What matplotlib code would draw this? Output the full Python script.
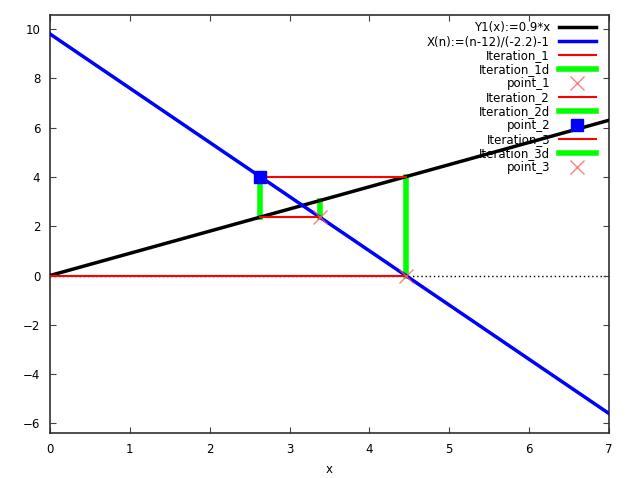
import matplotlib
matplotlib.use("Agg")
import matplotlib.pyplot as plt

# data
x_line = [0, 7]
y1_vals = [0.0, 6.3]          # Y1(x) = 0.9*x
xn_vals = [9.8, -5.6]         # X(n) line
it1_x = [0.0, 4.4545]; it1_y = [0.0, 0.0]
it1d_x = [4.4545, 4.4545]; it1d_y = [0.0, 4.009]
p1 = (4.4545, 0.0)
it2_x = [4.4545, 2.632]; it2_y = [4.009, 4.009]
it2d_x = [2.632, 2.632]; it2d_y = [4.009, 2.369]
p2 = (2.632, 4.009)
it3_x = [2.632, 3.378]; it3_y = [2.369, 2.369]
it3d_x = [3.378, 3.378]; it3d_y = [2.369, 3.040]
p3 = (3.378, 2.369)
xticks = [0, 1, 2, 3, 4, 5, 6, 7]
yticks = [-6, -4, -2, 0, 2, 4, 6, 8, 10]

plt.rcParams['font.family'] = ['DejaVu Sans']
fig = plt.figure(figsize=(6.4, 4.78), dpi=100)
ax = fig.add_axes([50/640, 45/478, 559/640, 418/478])

ax.axhline(0, color='black', lw=1, ls=(0, (1, 2)), zorder=1)
ax.plot(x_line, y1_vals, color='black', lw=2.5, label='Y1(x):=0.9*x', zorder=3)
ax.plot(x_line, xn_vals, color='#0000ff', lw=2.5, label='X(n):=(n-12)/(-2.2)-1', zorder=3)
ax.plot(it1_x, it1_y, color='#ff0000', lw=1.5, label='Iteration_1', zorder=4)
ax.plot(it1d_x, it1d_y, color='#00ff00', lw=4, label='Iteration_1d', zorder=2)
ax.plot([p1[0]], [p1[1]], ls='none', marker='x', ms=10, mew=1, color='#ff6060', alpha=0.8, label='point_1', zorder=5)
ax.plot(it2_x, it2_y, color='#ff0000', lw=1.5, label='Iteration_2', zorder=4)
ax.plot(it2d_x, it2d_y, color='#00ff00', lw=4, label='Iteration_2d', zorder=2)
ax.plot([p2[0]], [p2[1]], ls='none', marker='s', ms=9, color='#0000ff', label='point_2', zorder=5)
ax.plot(it3_x, it3_y, color='#ff0000', lw=1.5, label='Iteration_3', zorder=4)
ax.plot(it3d_x, it3d_y, color='#00ff00', lw=4, label='Iteration_3d', zorder=2)
ax.plot([p3[0]], [p3[1]], ls='none', marker='x', ms=10, mew=1, color='#ff6060', alpha=0.8, label='point_3', zorder=5)

ax.set_xlim(0, 7)
ax.set_ylim(-6.39, 10.57)
ax.set_xticks(xticks)
ax.set_yticks(yticks)
ax.tick_params(direction='in', top=True, right=True, labelsize=8.5, length=4, width=0.8, colors='#404040', labelcolor='black', pad=7)
for s in ax.spines.values():
    s.set_linewidth(1.2)
    s.set_color('#303030')
ax.set_xlabel('x', fontsize=8.5, labelpad=5)

leg = ax.legend(loc='upper right', bbox_to_anchor=(1 - 7/559, 1), frameon=False, fontsize=8.5,
                markerfirst=False, handlelength=3.1, labelspacing=0.08, borderaxespad=0.35,
                borderpad=0.2, handletextpad=0.75)
fig.savefig('out.png', dpi=100)
